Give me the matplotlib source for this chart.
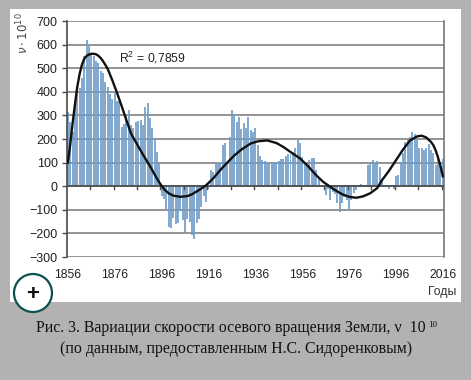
import matplotlib
matplotlib.use('Agg')
import matplotlib.pyplot as plt
from matplotlib.patches import Rectangle, Circle

# Yearly values, 1856..2016
years = list(range(1856, 2017))
values = [
    315, 270, 230, 340, 405, 415, 460, 550, 618, 595,
    555, 550, 530, 520, 490, 480, 440, 420, 390, 370,
    395, 360, 360, 250, 265, 300, 322, 258, 245, 272,
    278, 282, 260, 335, 352, 290, 245, 200, 145, 100,
    -40, -55, -98, -172, -178, -135, -160, -155, -100, -143,
    -200, -140, -150, -207, -225, -158, -137, -87, -40, -65,
    -10, 68, 60, 99, 99, 99, 173, 184, 103, 209,
    322, 300, 272, 293, 244, 268, 248, 293, 240, 230,
    247, 173, 128, 110, 106, 103, 99, 99, 99, 103,
    107, 117, 117, 127, 135, 138, 145, 163, 197, 183,
    125, 93, 88, 110, 120, 120, 68, 37, 5, -5,
    -38, -10, -60, -24, -31, -73, -109, -73, -45, -60,
    -95, -60, -30, -17, -3, 11, 2, 0, 89, 96,
    113, 99, 107, 82, 25, 5, -3, -10, 0, -10,
    42, 47, 103, 139, 189, 195, 210, 228, 220, 195,
    163, 163, 155, 160, 178, 155, 139, 89, 131, 103,
    117,
]

# Trend curve
trend_years = [1856, 1857, 1858, 1859, 1860, 1861, 1862, 1863, 1864, 1865, 1866, 1867, 1868, 1869,
               1870, 1871, 1872, 1873, 1875, 1877, 1879, 1881, 1883, 1885, 1887, 1889, 1891, 1893,
               1895, 1897, 1899, 1901, 1904, 1907, 1909, 1912, 1915, 1918, 1921, 1924, 1927, 1930,
               1934, 1937, 1941, 1945, 1948, 1951, 1955, 1958, 1962, 1965, 1969, 1973, 1976, 1979,
               1982, 1985, 1988, 1990, 1993, 1996, 1999, 2002, 2005, 2007, 2009, 2011, 2012, 2013,
               2014, 2015, 2016]
trend = [100, 175, 265, 345, 420, 475, 515, 540, 552, 558, 561, 561, 559, 553,
         543, 530, 514, 497, 448, 395, 338, 279, 222, 187, 152, 118, 86, 50,
         16, -12, -30, -40, -45, -42, -34, -16, 4, 33, 68, 100, 130, 155,
         181, 190, 194, 183, 166, 145, 118, 90, 46, 18, -10, -34, -45, -49,
         -43, -30, -8, 25, 65, 110, 155, 194, 211, 214, 206, 187, 173, 150,
         120, 85, 42]

y_ticks = [700, 600, 500, 400, 300, 200, 100, 0, -100, -200, -300]
x_labels = [1856, 1876, 1896, 1916, 1936, 1956, 1976, 1996, 2016]

W, H = 471, 380
plt.rcParams['font.family'] = ['Liberation Sans', 'DejaVu Sans']
plt.rcParams['mathtext.fontset'] = 'custom'
plt.rcParams['mathtext.rm'] = 'Liberation Sans'
plt.rcParams['mathtext.it'] = 'Liberation Sans:italic'

fig = plt.figure(figsize=(W / 100, H / 100), dpi=100, facecolor='#b2b2b2')

# White panel behind the chart
fig.patches.append(Rectangle((10 / W, 1 - 302 / H), 451 / W, 293 / H, transform=fig.transFigure,
                             facecolor='white', edgecolor='none', zorder=-2))

ax = fig.add_axes([66.7 / W, 1 - 257 / H, 377.3 / W, 236 / H], facecolor='white')
ax.set_xlim(1855.5, 2016.5)
ax.set_ylim(-300, 700)

ax.set_yticks(y_ticks)
ax.yaxis.grid(True, color='#777777', linewidth=1.1, zorder=1)
ax.set_axisbelow(True)
ax.bar(years, values, width=0.85, color='#6f9bc8', alpha=0.85, edgecolor='none', zorder=2)
ax.axhline(0, color='#4a4a4a', linewidth=1.2, zorder=3)
ax.plot(trend_years, trend, color='#111111', linewidth=1.7, zorder=4, solid_joinstyle='round')

# Tick marks every 10 years sit between the bars, labels every 20 years
ax.set_xticks([])
for t in range(1866, 2017, 10):
    ax.plot([t - 0.5, t - 0.5], [0, -12], color='#4a4a4a', linewidth=1, zorder=3)
for y in x_labels:
    ax.annotate(str(y), (y, -300), xytext=(0, -9), textcoords='offset points', ha='center', va='top',
                fontsize=8.8, color='#222222', annotation_clip=False)

ax.tick_params(axis='y', length=3.5, width=1, color='#4a4a4a', labelsize=9, labelcolor='#222222', pad=3,
               direction='out')
for side in ['top', 'bottom']:
    ax.spines[side].set_visible(False)
ax.spines['left'].set_color('#4a4a4a')
ax.spines['left'].set_linewidth(1.2)
ax.spines['right'].set_color('#777777')
ax.spines['right'].set_linewidth(1.2)

ax.text(1878, 545, 'R$^{2}$ = 0,7859', fontsize=8.8, color='#222222', va='center', ha='left')

fig.text(23 / W, 1 - 33.5 / H, r'$\mathit{\nu}\cdot 10^{10}$', rotation=90, ha='center', va='center',
         fontsize=8.5, color='#444444', math_fontfamily='dejavusans')
fig.text(456 / W, 1 - 292 / H, 'Годы', ha='right', va='center', fontsize=8.8, color='#333333')

# Plus badge in the corner
fig.patches.append(Circle((33, H - 293), 19, transform=None, facecolor='white', edgecolor='#0c5050', linewidth=1.6, zorder=5))
fig.text(32.7 / W, 1 - 294 / H, '+', ha='center', va='center', fontsize=16, color='#111111', fontweight='bold', zorder=6)

# Caption
fig.text(36 / W, 1 - 328 / H, 'Рис. 3. Вариации скорости осевого вращения Земли, ν  10', family='Liberation Serif',
         ha='left', va='center', fontsize=11.4, color='#111111')
fig.text(433 / W, 1 - 325 / H, '10', family='Liberation Serif', ha='center', va='center', fontsize=6.5, color='#111111')
fig.text(236.5 / W, 1 - 349 / H, '(по данным, предоставленным Н.С. Сидоренковым)', family='Liberation Serif',
         ha='center', va='center', fontsize=11.4, color='#111111')

fig.savefig('out.png', dpi=100, facecolor=fig.get_facecolor())
